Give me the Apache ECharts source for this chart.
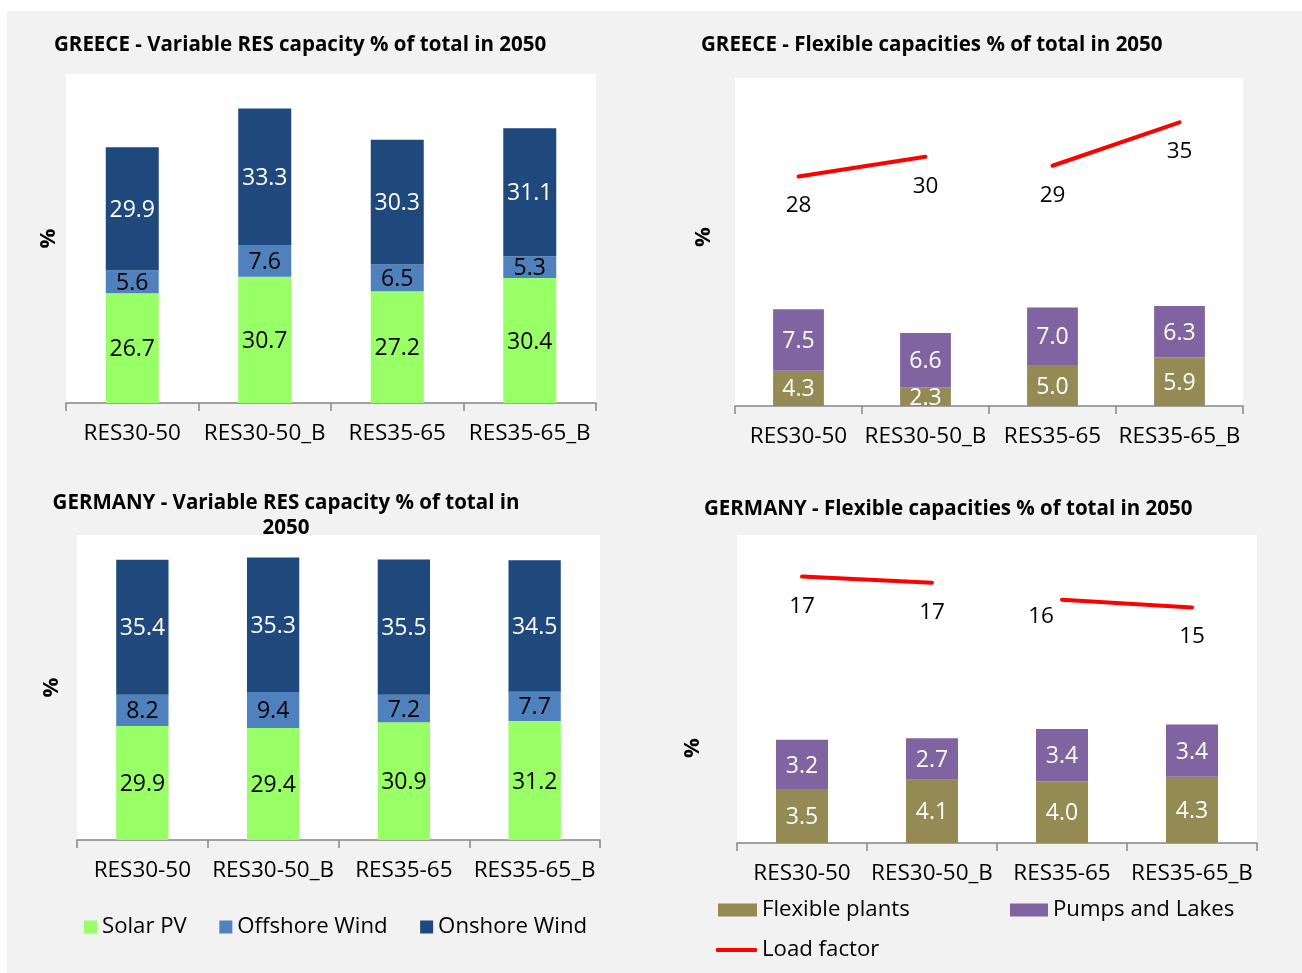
<!DOCTYPE html>
<html>
<head>
<meta charset="utf-8">
<script src="https://cdn.jsdelivr.net/npm/echarts@6/dist/echarts.min.js"></script>
<style>
html,body{margin:0;padding:0;background:#ffffff;}
#bg{position:absolute;left:7px;top:11px;width:1295px;height:962px;background:#f2f2f2;}
#chart{position:absolute;left:0;top:0;width:1302px;height:973px;}
</style>
</head>
<body>
<div id="bg"></div>
<div id="chart"></div>
<script>
// ---- data ----
var categories = ['RES30-50', 'RES30-50_B', 'RES35-65', 'RES35-65_B'];

var greeceSolarPV = [26.7, 30.7, 27.2, 30.4];
var greeceOffshoreWind = [5.6, 7.6, 6.5, 5.3];
var greeceOnshoreWind = [29.9, 33.3, 30.3, 31.1];
var greeceFlexiblePlants = [4.3, 2.3, 5.0, 5.9];
var greecePumpsLakes = [7.5, 6.6, 7.0, 6.3];
var greeceLoadFactor = [28.0, 30.4, 29.3, 34.6];

var germanySolarPV = [29.9, 29.4, 30.9, 31.2];
var germanyOffshoreWind = [8.2, 9.4, 7.2, 7.7];
var germanyOnshoreWind = [35.4, 35.3, 35.5, 34.5];
var germanyFlexiblePlants = [3.5, 4.1, 4.0, 4.3];
var germanyPumpsLakes = [3.2, 2.7, 3.4, 3.4];
var germanyLoadFactor = [17.3, 16.9, 15.8, 15.3];

var titles = [
  'GREECE - Variable RES capacity % of total in 2050',
  'GREECE - Flexible capacities % of total in 2050',
  'GERMANY - Variable RES capacity % of total in\n2050',
  'GERMANY - Flexible capacities % of total in 2050'
];

// ---- styling ----
var FONT = '"Open Sans", "Noto Sans", sans-serif';
var C_SOLAR = '#99ff66', C_OFF = '#4f81bd', C_ON = '#1f497d';
var C_FLEX = '#948a54', C_PUMP = '#8064a2', C_LF = '#ff0000';
var FS = 22.5;

var grids = [
  {left: 66, top: 74, width: 530, height: 329},
  {left: 735, top: 78, width: 508, height: 328},
  {left: 77, top: 535, width: 523, height: 305},
  {left: 737, top: 535, width: 520, height: 308}
];
var yMax = [80, 40, 80, 20];
var nameGaps = [6, 20, 14, 33];
// manual label nudges (per panel, per point) for the load-factor labels
var lfLabelOffsets = {1: [[0, 0], [0, 0], [0, 0], [0, 0]], 3: [[0, 0], [0, 0], [-21, -13], [0, 0]]};

var chart = echarts.init(document.getElementById('chart'));

var xAxes = grids.map(function (g, i) {
  return {
    type: 'category', gridIndex: i, data: categories,
    axisLine: {lineStyle: {color: '#868686', width: 1.5}},
    axisTick: {show: true, alignWithLabel: false, length: 8, lineStyle: {color: '#868686', width: 1.5}},
    axisLabel: {color: '#000', fontFamily: FONT, fontSize: FS, margin: 19, interval: 0}
  };
});
var yAxes = grids.map(function (g, i) {
  return {
    type: 'value', gridIndex: i, min: 0, max: yMax[i],
    axisLine: {show: false}, axisTick: {show: false}, axisLabel: {show: false},
    splitLine: {show: false},
    name: '%', nameLocation: 'middle', nameGap: nameGaps[i], nameRotate: 90,
    nameTextStyle: {color: '#000', fontFamily: FONT, fontSize: 22, fontWeight: 'bold',
      padding: i === 3 ? [0, 118, 0, 0] : (i === 1 ? [0, 0, 0, 10] : 0)}
  };
});

function barSeries(name, data, idx, color, labelColor, stack) {
  return {
    type: 'bar', name: name, data: data, xAxisIndex: idx, yAxisIndex: idx,
    stack: stack, barWidth: '40%',
    itemStyle: {color: color},
    label: {show: true, position: 'inside', offset: [0, 1.5], color: labelColor, fontFamily: FONT, fontSize: 23,
      formatter: function (p) { return p.value.toFixed(1); }},
    emphasis: {disabled: true}
  };
}
function lineSegment(data, idx, from) {
  var offs = lfLabelOffsets[idx];
  var seg = data.map(function (v, k) {
    if (k !== from && k !== from + 1) return null;
    return {value: v, label: {offset: offs[k]}};
  });
  return {
    type: 'line', name: 'Load factor', data: seg, xAxisIndex: idx, yAxisIndex: idx,
    connectNulls: false, symbol: 'circle', symbolSize: 0.1, showSymbol: true,
    lineStyle: {color: C_LF, width: 4, cap: 'round'}, itemStyle: {color: C_LF},
    label: {show: true, position: 'bottom', distance: 18, color: '#000', fontFamily: FONT, fontSize: FS,
      formatter: function (p) { return Math.round(p.value).toString(); }},
    emphasis: {disabled: true}
  };
}

var series = [
  barSeries('Solar PV', greeceSolarPV, 0, C_SOLAR, '#000', 'g1'),
  barSeries('Offshore Wind', greeceOffshoreWind, 0, C_OFF, '#000', 'g1'),
  barSeries('Onshore Wind', greeceOnshoreWind, 0, C_ON, '#fff', 'g1'),
  barSeries('Flexible plants', greeceFlexiblePlants, 1, C_FLEX, '#fff', 'g2'),
  barSeries('Pumps and Lakes', greecePumpsLakes, 1, C_PUMP, '#fff', 'g2'),
  lineSegment(greeceLoadFactor, 1, 0),
  lineSegment(greeceLoadFactor, 1, 2),
  barSeries('Solar PV', germanySolarPV, 2, C_SOLAR, '#000', 'g3'),
  barSeries('Offshore Wind', germanyOffshoreWind, 2, C_OFF, '#000', 'g3'),
  barSeries('Onshore Wind', germanyOnshoreWind, 2, C_ON, '#fff', 'g3'),
  barSeries('Flexible plants', germanyFlexiblePlants, 3, C_FLEX, '#fff', 'g4'),
  barSeries('Pumps and Lakes', germanyPumpsLakes, 3, C_PUMP, '#fff', 'g4'),
  lineSegment(germanyLoadFactor, 3, 0),
  lineSegment(germanyLoadFactor, 3, 2)
];

var titleStyle = {color: '#000', fontFamily: FONT, fontSize: 20.5, fontWeight: 'bold', lineHeight: 25};
var legendText = {color: '#000', fontFamily: FONT, fontSize: 22.2};

var option = {
  animation: false,
  backgroundColor: 'transparent',
  title: [
    {text: titles[0], left: 54, top: 32.5, textStyle: titleStyle, padding: 0},
    {text: titles[1], left: 701, top: 32.5, textStyle: titleStyle, padding: 0},
    {text: titles[2], left: 286, top: 490.5, textAlign: 'center', textStyle: titleStyle, padding: 0},
    {text: titles[3], left: 704, top: 496.5, textStyle: titleStyle, padding: 0}
  ],
  grid: grids.map(function (g) {
    return {left: g.left, top: g.top, width: g.width, height: g.height, show: true,
      backgroundColor: '#ffffff', borderWidth: 0, containLabel: false};
  }),
  xAxis: xAxes,
  yAxis: yAxes,
  legend: [
    {data: ['Solar PV', 'Offshore Wind', 'Onshore Wind'], left: 84, top: 916, icon: 'rect',
      itemWidth: 13, itemHeight: 13, itemGap: 32.5, textStyle: legendText, padding: 0, selectedMode: false},
    {data: ['Flexible plants'], left: 718, top: 899, icon: 'rect', itemWidth: 39, itemHeight: 13,
      textStyle: legendText, padding: 0, selectedMode: false},
    {data: ['Pumps and Lakes'], left: 1010, top: 899, icon: 'rect', itemWidth: 38, itemHeight: 13,
      textStyle: legendText, padding: 0, selectedMode: false},
    {data: ['Load factor'], left: 716, top: 939, icon: 'roundRect', itemWidth: 41, itemHeight: 4,
      textStyle: legendText, padding: 0, selectedMode: false}
  ],
  series: series
};
chart.setOption(option);
</script>
</body>
</html>
